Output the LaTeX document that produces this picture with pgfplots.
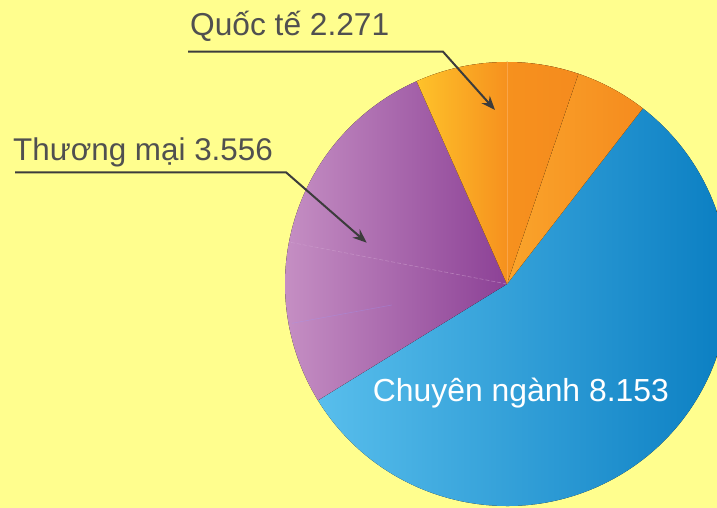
\documentclass[border=0pt]{standalone}
\usepackage{pgfplots}
\pgfplotsset{compat=1.18}
\usepackage{fontspec}
\setmainfont{Liberation Sans}
\usetikzlibrary{arrows.meta}
\definecolor{bg}{HTML}{FFFE8E}
\definecolor{labelgray}{HTML}{505050}
\definecolor{linegray}{HTML}{3C3C3C}
\definecolor{oyl}{HTML}{FEC22A}
\definecolor{oor}{HTML}{F6911E}
\definecolor{oor2}{HTML}{F58B1E}
\definecolor{oor3}{HTML}{FAA42B}
\definecolor{pl}{HTML}{C690C4}
\definecolor{pd}{HTML}{8C4196}
\definecolor{bl}{HTML}{58BEEC}
\definecolor{bd}{HTML}{0A7EC2}
% pie segments: start angle, end angle (degrees)
\newcommand{\pieseg}[4]{%
  \fill[left color=#3,right color=#4] (axis cs:507,224) -- ++(#1:222bp) arc[start angle=#1,end angle=#2,radius=222bp] -- cycle;}
\begin{document}
\begin{tikzpicture}
\begin{axis}[width=717bp,height=508bp,scale only axis,
  xmin=0,xmax=717,ymin=0,ymax=508,hide axis,clip=true]
\fill[bg] (axis cs:0,0) rectangle (axis cs:717,508);
% Chuyên ngành 8.153
\pieseg{211.6}{412.3}{bl}{bd}
% Thương mại 3.556
\pieseg{114.0}{211.6}{pl}{pd}
% Quốc tế 2.271
\fill[oor2] (axis cs:507,224) -- ++(52.3:222bp) arc[start angle=52.3,end angle=114,radius=222bp] -- cycle;
\pieseg{90.0}{114.0}{oyl}{oor}
\pieseg{71.2}{90.0}{oor}{oor2}
\pieseg{52.3}{71.2}{oor3}{oor2}
\draw[color=white!65!violet,opacity=0.5,line width=0.6bp,dash pattern=on 4bp off 2bp] (axis cs:507,224) -- ++(169.1:222bp);
\draw[color=white!60!blue,opacity=0.3,line width=0.6bp] (axis cs:392,203) -- (axis cs:292,184.7);
\draw[color=white!60!orange,opacity=0.35,line width=0.6bp] (axis cs:507,224) -- ++(90:222bp);
\node[anchor=base west,inner sep=0,text=labelgray,font=\fontsize{31.8}{36}\selectfont] at (axis cs:190,472) {Quốc tế 2.271};
\node[anchor=base west,inner sep=0,text=labelgray,font=\fontsize{31.5}{36}\selectfont] at (axis cs:13,347.3) {Thương mại 3.556};
\node[anchor=base west,inner sep=0,text=white,font=\fontsize{32}{36}\selectfont] at (axis cs:372.7,106.3) {Chuyên ngành 8.153};
\draw[linegray,line width=2bp,-{Stealth[length=14bp,width=11bp]}] (axis cs:188,456.3) -- (axis cs:443,456.3) -- (axis cs:495,398);
\draw[linegray,line width=2bp,-{Stealth[length=14bp,width=11bp]}] (axis cs:15,335.7) -- (axis cs:286,335.7) -- (axis cs:366.7,265.3);
\end{axis}
\pgfresetboundingbox
\path (0,0) rectangle (717bp,508bp);
\end{tikzpicture}
\end{document}
